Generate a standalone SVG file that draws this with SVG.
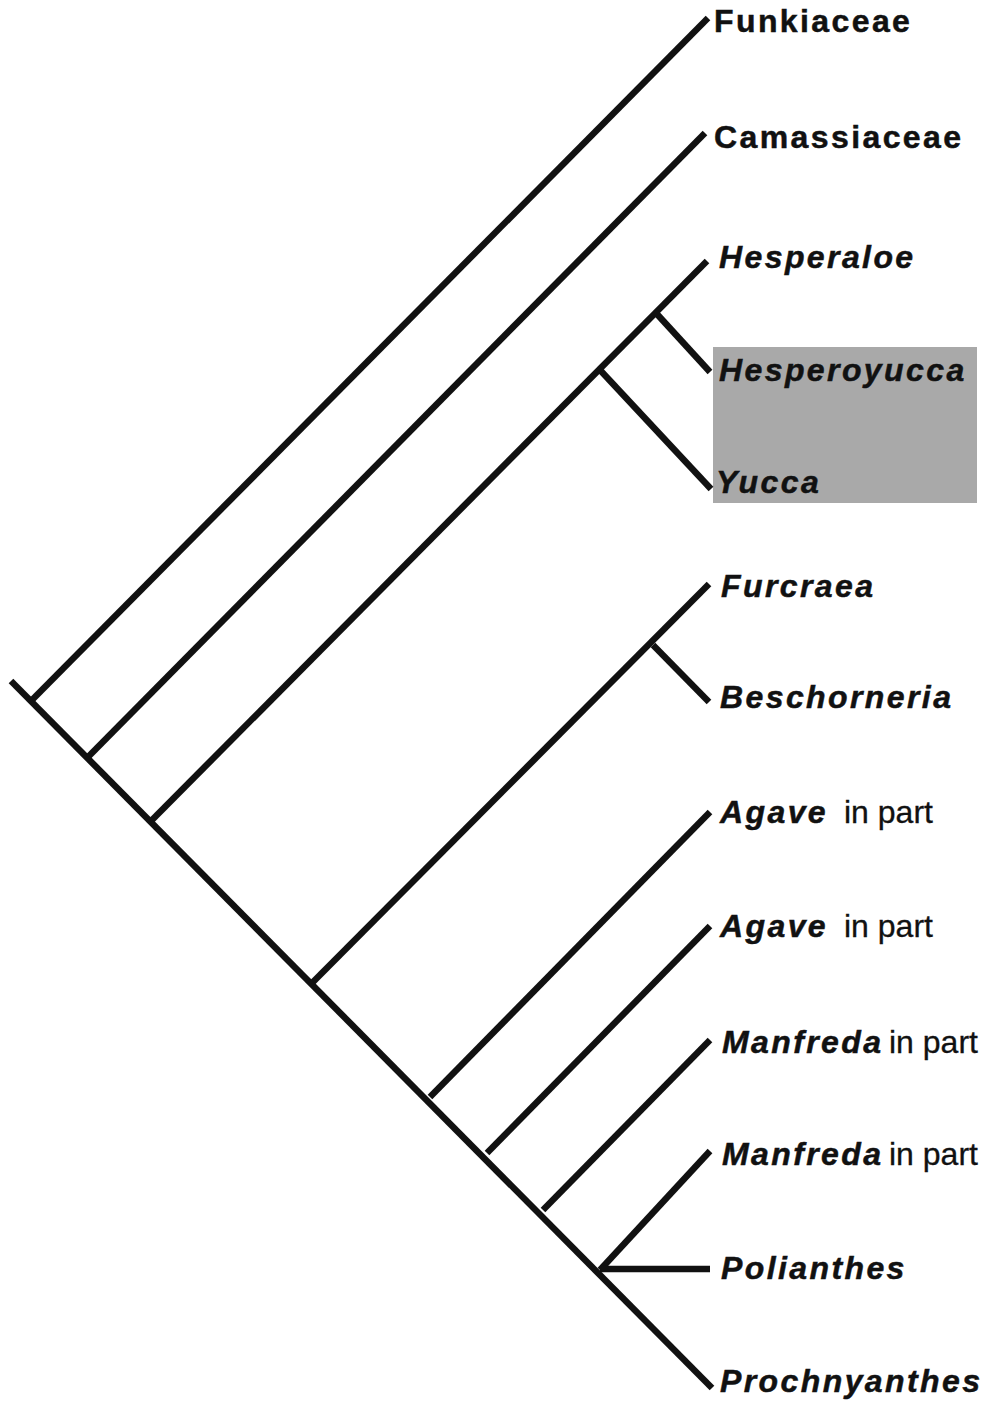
<svg xmlns="http://www.w3.org/2000/svg" width="992" height="1402" viewBox="0 0 992 1402">
<style>
.br{stroke:#111;stroke-width:6.5;fill:none;stroke-linecap:butt;stroke-linejoin:miter}
.t{font-family:"Liberation Sans",Arial,sans-serif;font-weight:bold;font-size:32px;letter-spacing:2.4px;fill:#111;stroke:#111;stroke-width:0.5}
.i{font-style:italic}
.r{font-weight:normal;font-style:normal;letter-spacing:0;stroke-width:0.3}
</style>
<rect width="992" height="1402" fill="#fff"/>
<rect id="highlight" x="713" y="347" width="264" height="156" fill="#a9a9a9"/>
<g id="connectors" class="br">
<path d="M11 681 L712 1388"/>
<path d="M32 700 L708 18"/>
<path d="M88 757 L705 133"/>
<path d="M152 820 L707 261"/>
<path d="M656 313 L710 372"/>
<path d="M600 370 L711 489"/>
<path d="M313 982 L709 584"/>
<path d="M653 645 L709 702"/>
<path d="M430 1097 L710 812"/>
<path d="M487 1153 L710 926"/>
<path d="M543 1210 L710 1040"/>
<path d="M600 1270 L710 1151"/>
<path d="M600 1269 L710 1269"/>
</g>
<g id="n-funkiaceae"><text class="t" x="714" y="32">Funkiaceae</text></g>
<g id="n-camassiaceae"><text class="t" x="714" y="148">Camassiaceae</text></g>
<g id="n-hesperaloe"><text class="t i" x="719" y="268">Hesperaloe</text></g>
<g id="n-hesperoyucca"><text class="t i" x="719" y="381">Hesperoyucca</text></g>
<g id="n-yucca"><text class="t i" x="716" y="493">Yucca</text></g>
<g id="n-furcraea"><text class="t i" x="721" y="597">Furcraea</text></g>
<g id="n-beschorneria"><text class="t i" x="720" y="708">Beschorneria</text></g>
<g id="n-agave1"><text class="t i" x="720" y="823">Agave<tspan class="r" x="844">in part</tspan></text></g>
<g id="n-agave2"><text class="t i" x="720" y="937">Agave<tspan class="r" x="844">in part</tspan></text></g>
<g id="n-manfreda1"><text class="t i" x="722" y="1053">Manfreda<tspan class="r" x="889">in part</tspan></text></g>
<g id="n-manfreda2"><text class="t i" x="722" y="1165">Manfreda<tspan class="r" x="889">in part</tspan></text></g>
<g id="n-polianthes"><text class="t i" x="721" y="1279">Polianthes</text></g>
<g id="n-prochnyanthes"><text class="t i" x="720" y="1392">Prochnyanthes</text></g>
</svg>
